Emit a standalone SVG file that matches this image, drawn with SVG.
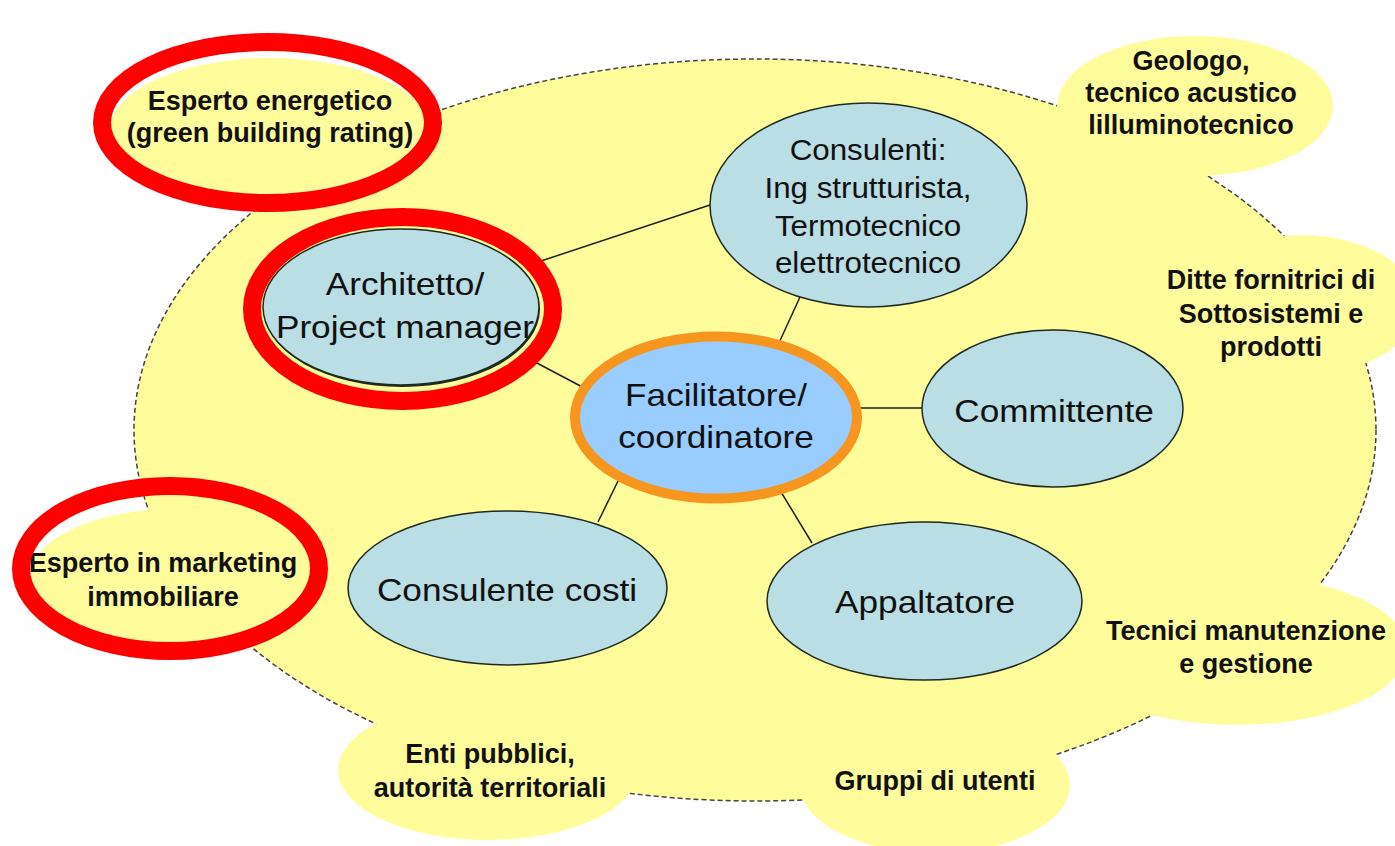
<svg xmlns="http://www.w3.org/2000/svg" width="1395" height="846" viewBox="0 0 1395 846">
<style>
.bg{fill:#FFFC9C;}
.blob{fill:#FFFC9C;stroke:none;}
.node{fill:#B9DEE3;stroke:#1E2A1E;stroke-width:1.5;}
.hub{fill:#99CCFF;stroke:#F7961E;stroke-width:10;}
.ring{fill:none;stroke:#FF0000;stroke-width:18;}
.conn line{stroke:#1E1E1E;stroke-width:1.5;}
.lbl{font-family:"Liberation Sans",Arial,sans-serif;font-size:32px;fill:#111;text-anchor:middle;}
.lbls{font-family:"Liberation Sans",Arial,sans-serif;font-size:29px;fill:#111;text-anchor:middle;}
.bold{font-family:"Liberation Sans",Arial,sans-serif;font-size:27px;font-weight:bold;fill:#111;text-anchor:middle;}
</style>
<rect width="1395" height="846" fill="#FFFFFF"/>
<g id="area">
<ellipse cx="755" cy="430" rx="621" ry="371" fill="#FFFC9C" stroke="#444" stroke-width="1.5" stroke-dasharray="5 3"/>
</g>
<g id="blobs">
<ellipse class="blob" cx="270" cy="130" rx="160" ry="72"/>
<ellipse class="blob" cx="1195" cy="106" rx="138" ry="70"/>
<ellipse class="blob" cx="1300" cy="305" rx="118" ry="70"/>
<ellipse class="blob" cx="1237" cy="650" rx="170" ry="75"/>
<ellipse class="blob" cx="935" cy="785" rx="135" ry="68"/>
<ellipse class="blob" cx="488" cy="770" rx="150" ry="70"/>
<ellipse class="blob" cx="175" cy="577" rx="145" ry="68"/>
</g>
<g id="connectors" class="conn">
<line x1="538" y1="262" x2="710" y2="205"/>
<line x1="535" y1="362" x2="588" y2="390"/>
<line x1="800" y1="297" x2="778" y2="345"/>
<line x1="857" y1="408" x2="923" y2="408"/>
<line x1="620" y1="477" x2="598" y2="522"/>
<line x1="778" y1="487" x2="812" y2="543"/>
</g>
<g id="n-geologo">
<text class="bold" x="1191" y="70">Geologo,</text>
<text class="bold" x="1191" y="102">tecnico acustico</text>
<text class="bold" x="1191" y="134">lilluminotecnico</text>
</g>
<g id="n-ditte">
<text class="bold" x="1271" y="289">Ditte fornitrici di</text>
<text class="bold" x="1271" y="323">Sottosistemi e</text>
<text class="bold" x="1271" y="356">prodotti</text>
</g>
<g id="n-tecnici">
<text class="bold" x="1246" y="640">Tecnici manutenzione</text>
<text class="bold" x="1246" y="673">e gestione</text>
</g>
<g id="n-gruppi">
<text class="bold" x="935" y="790">Gruppi di utenti</text>
</g>
<g id="n-enti">
<text class="bold" x="490" y="763">Enti pubblici,</text>
<text class="bold" x="490" y="797">autorità territoriali</text>
</g>
<g id="n-energetico">
<text class="bold" x="270" y="110">Esperto energetico</text>
<text class="bold" x="270" y="142">(green building rating)</text>
</g>
<g id="n-marketing">
<text class="bold" x="163" y="572">Esperto in marketing</text>
<text class="bold" x="163" y="606">immobiliare</text>
</g>
<g id="n-consulenti">
<ellipse class="node" cx="868.5" cy="205" rx="158.5" ry="102"/>
<g transform="translate(868 0) scale(1.08 1)">
<text class="lbls" x="0" y="160">Consulenti:</text>
<text class="lbls" x="0" y="198">Ing strutturista,</text>
<text class="lbls" x="0" y="236">Termotecnico</text>
<text class="lbls" x="0" y="273">elettrotecnico</text>
</g>
</g>
<g id="n-architetto">
<ellipse cx="402" cy="309" rx="138" ry="78" fill="#1E2A1E"/>
<ellipse class="node" cx="401" cy="307" rx="138" ry="78"/>
<g transform="translate(405 0) scale(1.1 1)">
<text class="lbl" x="0" y="295">Architetto/</text>
<text class="lbl" x="0" y="338">Project manager</text>
</g>
</g>
<g id="n-facilitatore">
<ellipse class="hub" cx="716" cy="417.5" rx="141" ry="81"/>
<g transform="translate(716 0) scale(1.1 1)">
<text class="lbl" x="0" y="406">Facilitatore/</text>
<text class="lbl" x="0" y="448">coordinatore</text>
</g>
</g>
<g id="n-committente">
<ellipse class="node" cx="1052.5" cy="408.5" rx="130.5" ry="78.5"/>
<g transform="translate(1054 0) scale(1.1 1)">
<text class="lbl" x="0" y="422">Committente</text>
</g>
</g>
<g id="n-costi">
<ellipse class="node" cx="507.5" cy="588" rx="159.5" ry="77"/>
<g transform="translate(507 0) scale(1.1 1)">
<text class="lbl" x="0" y="601">Consulente costi</text>
</g>
</g>
<g id="n-appaltatore">
<ellipse class="node" cx="924.5" cy="601" rx="157.5" ry="79"/>
<g transform="translate(925 0) scale(1.1 1)">
<text class="lbl" x="0" y="613">Appaltatore</text>
</g>
</g>
<g id="highlights">
<ellipse class="ring" cx="267.5" cy="122.5" rx="165.5" ry="80.5"/>
<ellipse class="ring" cx="402.5" cy="309" rx="150.5" ry="92"/>
<ellipse class="ring" cx="170" cy="568.5" rx="149" ry="82.5"/>
</g>
</svg>
